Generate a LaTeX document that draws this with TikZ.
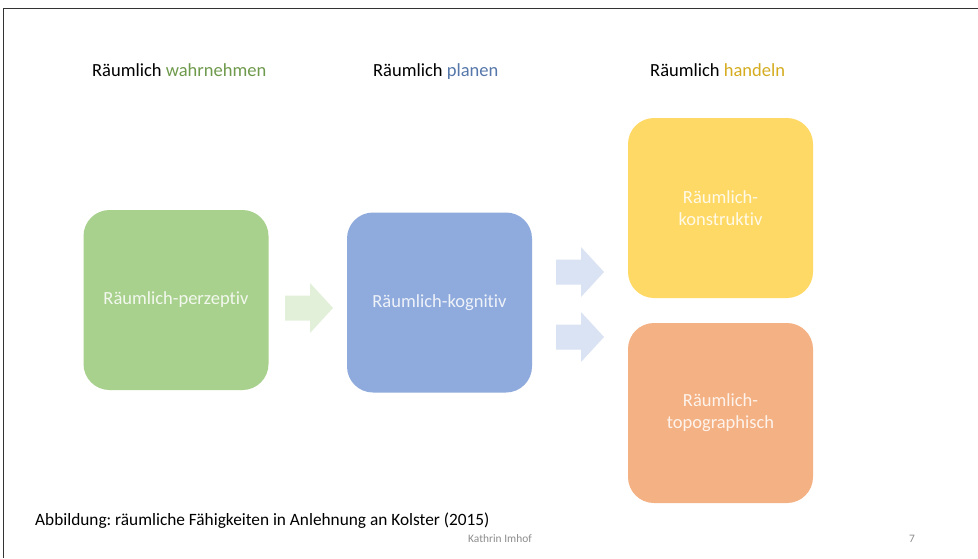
\documentclass[tikz,border=0pt]{standalone}
\usepackage{fontspec}
\setmainfont[Ligatures={NoCommon}]{Carlito}
\definecolor{cgreen}{HTML}{A9D18E}
\definecolor{cblue}{HTML}{8FAADC}
\definecolor{cyellow}{HTML}{FFD966}
\definecolor{corange}{HTML}{F4B183}
\definecolor{agreen}{HTML}{E2F0D9}
\definecolor{ablue}{HTML}{DAE3F3}
\definecolor{tgreen}{HTML}{6F9A4C}
\definecolor{tblue}{HTML}{5577AA}
\definecolor{tyellow}{HTML}{D4AC1E}
\definecolor{tgray}{HTML}{8C8C8C}
\frenchspacing
\tikzset{
  box/.style={rounded corners=26pt, minimum width=185pt, minimum height=180pt, inner sep=0pt, text=white, text opacity=0.85, font=\fontsize{18.5}{22}\selectfont, align=center},
  header/.style={anchor=base west, inner sep=0pt, font=\fontsize{18.5}{22}\selectfont},
  fatarrow/.pic={\fill (0,-12.5) -- (25,-12.5) -- (25,-25) -- (48,0) -- (25,25) -- (25,12.5) -- (0,12.5) -- cycle;}
}
\begin{document}
\begin{tikzpicture}[x=1pt,y=-1pt]
\useasboundingbox (0,0) rectangle (978,558);
\fill[white] (0,0) rectangle (978,558);
\draw[line width=1pt, black!80] (3,558) -- (3,8) -- (978,8);
% headers
\node[header] (h1) at (92,76.5) {Räumlich \textcolor{tgreen}{wahrnehmen}};
\node[header] (h2) at (373,76.5) {Räumlich \textcolor{tblue}{planen}};
\node[header] (h3) at (650,76.5) {Räumlich \textcolor{tyellow}{handeln}};
% boxes
\node[box, fill=cgreen] (g) at (176,300) {Räumlich-perzeptiv};
\node[box, fill=cblue] (b) at (439.5,302.5) {Räumlich-kognitiv};
\node[box, fill=cyellow] (y) at (720.5,208) {Räumlich-\\konstruktiv};
\node[box, fill=corange] (o) at (720.5,413) {Räumlich-\\topographisch};
% arrows
\pic[agreen] at (285,308) {fatarrow};
\pic[ablue] at (556,272) {fatarrow};
\pic[ablue] at (556,337) {fatarrow};
% caption
\node[anchor=west, inner sep=0pt, font=\fontsize{17.3}{20}\selectfont] (cap) at (35,521) {Abbildung: räumliche Fähigkeiten in Anlehnung an Kolster (2015)};
\node[inner sep=0pt, text=tgray, font=\fontsize{11.4}{13}\selectfont] (auth) at (500,539) {Kathrin Imhof};
\node[inner sep=0pt, text=tgray, font=\fontsize{11.4}{13}\selectfont] (pg) at (912,539) {7};
\end{tikzpicture}
\end{document}
